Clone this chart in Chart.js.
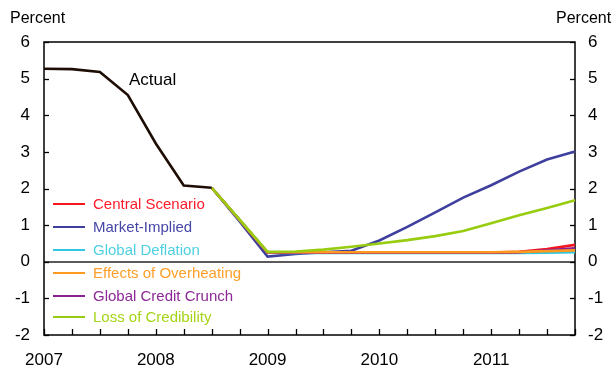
<!DOCTYPE html>
<html>
<head>
<meta charset="utf-8">
<script src="https://cdn.jsdelivr.net/npm/chart.js@4/dist/chart.umd.min.js"></script>
<style>
html,body{margin:0;padding:0;background:#fff;}
#wrap{width:613px;height:373px;position:relative;}
</style>
</head>
<body>
<div id="wrap"><canvas id="c" width="613" height="373"></canvas></div>
<script>
// Quarterly categories 2007Q1 .. 2011Q4
const quarters = ['2007Q1','2007Q2','2007Q3','2007Q4','2008Q1','2008Q2','2008Q3','2008Q4',
  '2009Q1','2009Q2','2009Q3','2009Q4','2010Q1','2010Q2','2010Q3','2010Q4',
  '2011Q1','2011Q2','2011Q3','2011Q4'];
const yearLabels = ['2007','2008','2009','2010','2011'];
const yTicks = [-2,-1,0,1,2,3,4,5,6];

const N = null;
const actual        = [5.27,5.26,5.18,4.55,3.23,2.08,2.02,N,N,N,N,N,N,N,N,N,N,N,N,N];
const central       = [N,N,N,N,N,N,2.02,1.14,0.25,0.25,0.25,0.25,0.25,0.25,0.25,0.25,0.25,0.27,0.35,0.46];
const marketImplied = [N,N,N,N,N,N,2.02,1.10,0.14,0.21,0.26,0.30,0.58,0.95,1.35,1.75,2.09,2.46,2.79,3.01];
const globalDeflation = [N,N,N,N,N,N,2.02,1.14,0.25,0.24,0.24,0.24,0.24,0.24,0.24,0.24,0.24,0.24,0.25,0.26];
const overheating   = [N,N,N,N,N,N,2.02,1.14,0.26,0.26,0.26,0.26,0.26,0.26,0.26,0.26,0.26,0.27,0.29,0.31];
const creditCrunch  = [N,N,N,N,N,N,2.02,1.14,0.25,0.25,0.25,0.25,0.25,0.25,0.25,0.25,0.25,0.26,0.31,0.37];
const credibility   = [N,N,N,N,N,N,2.02,1.15,0.27,0.28,0.33,0.41,0.50,0.59,0.70,0.84,1.05,1.27,1.47,1.68];

const seriesNames = ['Central Scenario','Market-Implied','Global Deflation','Effects of Overheating','Global Credit Crunch','Loss of Credibility'];
const seriesData = [central, marketImplied, globalDeflation, overheating, creditCrunch, credibility];
const lineColors = ['#f5161e','#3f3f9e','#2ec8e0','#ff9a1e','#8a1f8e','#98cc10'];
const textColors = ['#ff1a2a','#4646a6','#4fd0e0','#ff9f2a','#8c2896','#a6d418'];
const drawOrder = [4,6,5,2,3,1];

const FONT = "'Liberation Sans', Arial, Helvetica, sans-serif";

const datasets = seriesNames.map((name,i)=>({
  label: name,
  data: seriesData[i],
  borderColor: lineColors[i],
  backgroundColor: lineColors[i],
  borderWidth: 2.6,
  pointRadius: 0,
  fill: false,
  tension: 0,
  order: drawOrder[i],
  yAxisID: 'y'
}));
datasets.push({
  label: 'Actual',
  data: actual,
  borderColor: '#1e0d04',
  backgroundColor: '#1e0d04',
  borderWidth: 2.6,
  pointRadius: 0,
  fill: false,
  order: 0,
  yAxisID: 'y'
});

const framePlugin = {
  id: 'frame',
  beforeDatasetsDraw(chart){
    const {ctx, chartArea:a, scales} = chart;
    const y = scales.y, x = scales.x;
    ctx.save();
    // zero line
    ctx.strokeStyle = '#5a5a5a';
    ctx.lineWidth = 2;
    const y0 = Math.round(y.getPixelForValue(0));
    ctx.beginPath(); ctx.moveTo(a.left, y0); ctx.lineTo(a.right, y0); ctx.stroke();
    // frame
    ctx.strokeStyle = '#000';
    ctx.lineWidth = 1.5;
    ctx.strokeRect(a.left, a.top, a.right - a.left, a.bottom - a.top);
    // y ticks inward both sides
    ctx.lineWidth = 1.3;
    yTicks.forEach(v=>{
      const py = Math.round(y.getPixelForValue(v)) + 0.5;
      ctx.beginPath(); ctx.moveTo(a.left, py); ctx.lineTo(a.left+5, py); ctx.stroke();
      ctx.beginPath(); ctx.moveTo(a.right, py); ctx.lineTo(a.right-5, py); ctx.stroke();
    });
    // x ticks inward
    quarters.forEach((q,i)=>{
      const px = Math.round(x.getPixelForValue(i)) + 0.5;
      ctx.beginPath(); ctx.moveTo(px, a.bottom); ctx.lineTo(px, a.bottom-6); ctx.stroke();
    });
    ctx.restore();
  },
  afterDraw(chart){
    const {ctx} = chart;
    ctx.save();
    ctx.fillStyle = '#000';
    ctx.font = '16px ' + FONT;
    ctx.textBaseline = 'middle';
    ctx.textAlign = 'left';
    ctx.fillText('Percent', 10, 19);
    ctx.fillText('Percent', 556, 19);
    ctx.font = '17px ' + FONT;
    ctx.fillText('Actual', 129, 80);
    ctx.font = '15px ' + FONT;
    const legendY = [204, 227, 250, 273, 296, 317];
    seriesNames.forEach((name,i)=>{
      const ly = legendY[i];
      ctx.strokeStyle = lineColors[i];
      ctx.lineWidth = 2;
      ctx.beginPath(); ctx.moveTo(53, ly); ctx.lineTo(85, ly); ctx.stroke();
      ctx.fillStyle = textColors[i];
      ctx.fillText(name, 93, ly + 1);
    });
    ctx.restore();
  }
};

new Chart(document.getElementById('c'), {
  type: 'line',
  data: { labels: quarters, datasets },
  options: {
    responsive: false,
    animation: false,
    devicePixelRatio: 1,
    layout: { padding: { top: 42, right: 0, bottom: 0, left: 0 } },
    plugins: { legend: { display: false }, tooltip: { enabled: false } },
    scales: {
      x: {
        type: 'category',
        offset: false,
        grid: { display: false, drawTicks: false },
        border: { display: false },
        ticks: {
          autoSkip: false,
          maxRotation: 0,
          padding: 15,
          color: '#000',
          font: { family: FONT, size: 17 },
          callback: (v, i) => quarters[i].endsWith('Q1') ? yearLabels[Math.floor(i/4)] : ''
        },
        afterFit: s => { s.height = 38; }
      },
      y: {
        position: 'left',
        min: -2, max: 6,
        grid: { display: false, drawTicks: false },
        border: { display: false },
        ticks: { stepSize: 1, padding: 14, color: '#000', font: { family: FONT, size: 17 } },
        afterFit: s => { s.width = 44; }
      },
      y2: {
        position: 'right',
        min: -2, max: 6,
        grid: { display: false, drawTicks: false },
        border: { display: false },
        ticks: { stepSize: 1, padding: 13, color: '#000', font: { family: FONT, size: 17 } },
        afterFit: s => { s.width = 38; }
      }
    }
  },
  plugins: [framePlugin]
});
</script>
</body>
</html>
